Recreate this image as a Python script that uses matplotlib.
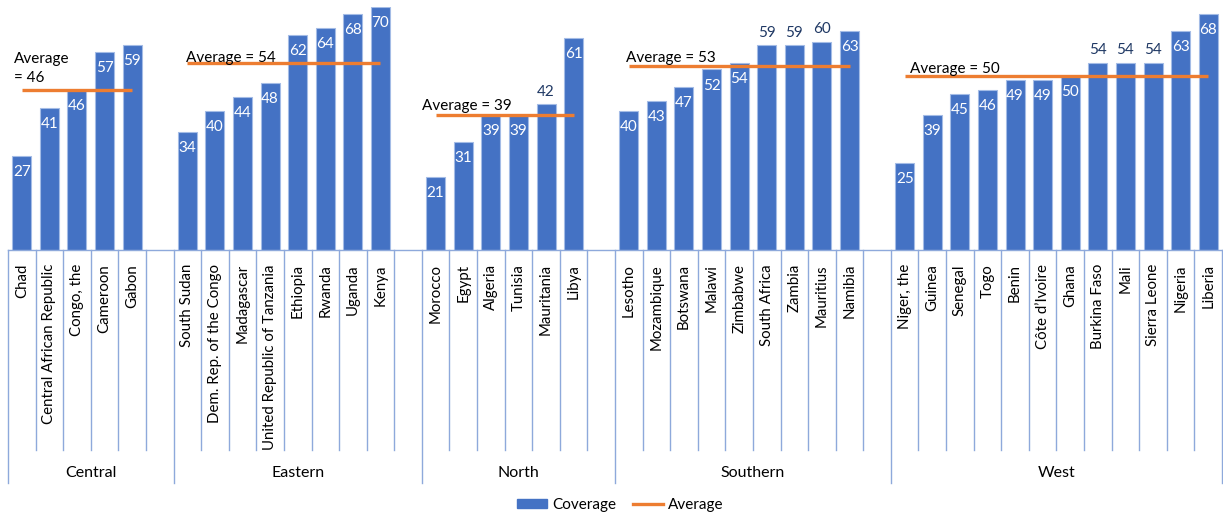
import matplotlib
matplotlib.use("Agg")
import matplotlib.pyplot as plt
import matplotlib.transforms as mtransforms
from matplotlib.patches import Patch
from matplotlib.lines import Line2D

plt.rcParams['font.family'] = ['Lato', 'DejaVu Sans']

# coverage by region
regions = ['Central', 'Eastern', 'North', 'Southern', 'West']
countries = [
    ['Chad', 'Central African Republic', 'Congo, the', 'Cameroon', 'Gabon'],
    ['South Sudan', 'Dem. Rep. of the Congo', 'Madagascar',
     'United Republic of Tanzania', 'Ethiopia', 'Rwanda', 'Uganda', 'Kenya'],
    ['Morocco', 'Egypt', 'Algeria', 'Tunisia', 'Mauritania', 'Libya'],
    ['Lesotho', 'Mozambique', 'Botswana', 'Malawi', 'Zimbabwe',
     'South Africa', 'Zambia', 'Mauritius', 'Namibia'],
    ['Niger, the', 'Guinea', 'Senegal', 'Togo', 'Benin', 'Côte d’Ivoire',
     'Ghana', 'Burkina Faso', 'Mali', 'Sierra Leone', 'Nigeria', 'Liberia'],
]
coverage = [
    [27, 41, 46, 57, 59],
    [34, 40, 44, 48, 62, 64, 68, 70],
    [21, 31, 39, 39, 42, 61],
    [40, 43, 47, 52, 54, 59, 59, 60, 63],
    [25, 39, 45, 46, 49, 49, 50, 54, 54, 54, 63, 68],
]
averages = [46, 54, 39, 53, 50]
avg_text = ['Average\n= 46', 'Average = 54', 'Average = 39',
            'Average = 53', 'Average = 50']
# labels placed above the bar so the average line doesn't cross them
above = {'Mauritania', 'South Africa', 'Zambia', 'Mauritius',
         'Burkina Faso', 'Mali', 'Sierra Leone'}

BLUE = '#4472C4'
ORANGE = '#ED7D31'
TICK = '#8EA9DB'

W, H = 1223, 519
fig = plt.figure(figsize=(W / 100, H / 100), dpi=100)
ax = fig.add_axes([8 / W, (H - 250) / H, 1214 / W, 243 / H])

# slot layout: one slot per country plus an empty slot after each region
xs, names, vals, bounds, starts = [], [], [], [-0.5], []
pos = 0
for g, (cs, vs) in enumerate(zip(countries, coverage)):
    starts.append(pos)
    for c, v in zip(cs, vs):
        xs.append(pos)
        names.append(c)
        vals.append(v)
        pos += 1
    if g < len(regions) - 1:
        pos += 1
    bounds.append(pos - 0.5)

ax.bar(xs, vals, width=0.69, color=BLUE, edgecolor='#A4BCE6',
       linewidth=0.8, zorder=2)

for g, avg in enumerate(averages):
    gx = list(range(starts[g], starts[g] + len(countries[g])))
    ax.plot(gx, [avg] * len(gx), color=ORANGE, lw=2.4,
            solid_capstyle='butt', zorder=3)

for x, n, v in zip(xs, names, vals):
    if n in above:
        ax.annotate(str(v), (x, v), xytext=(0, 4), textcoords='offset points',
                    ha='center', va='bottom', fontsize=11, color='#1F3864')
    else:
        ax.annotate(str(v), (x, v), xytext=(0, -6.5), textcoords='offset points',
                    ha='center', va='top', fontsize=11, color='white')

text_dx = [-0.28, -0.05, -0.5, -0.1, 0.2]
text_dy = [3.5, -2, 1, 1, 0.5]
for g, avg in enumerate(averages):
    ax.annotate(avg_text[g], (starts[g] + text_dx[g], avg),
                xytext=(0, text_dy[g]), textcoords='offset points',
                ha='left', va='bottom', fontsize=11, color='black',
                linespacing=1.5, annotation_clip=False)

ax.set_xlim(-0.5, pos - 0.5)
ax.set_ylim(0, 70)
ax.axis('off')

# multi-level category axis below the plot
tr = mtransforms.blended_transform_factory(ax.transData, fig.transFigure)
y0 = (H - 250) / H
y_inner = (H - 450) / H
y_outer = (H - 483) / H
ax.plot([-0.5, pos - 0.5], [y0, y0], transform=tr, color=TICK, lw=1,
        clip_on=False)
for b in range(pos + 1):
    bx = b - 0.5
    yb = y_outer if bx in bounds else y_inner
    ax.plot([bx, bx], [y0, yb], transform=tr, color=TICK, lw=1, clip_on=False)

labels = []
for x, n in zip(xs, names):
    labels.append(ax.text(x, (H - 264) / H, n, transform=tr, rotation=90,
                          ha='center', va='top', fontsize=10, color='black'))

# size the country names so the longest one fills its cell (about 185 px)
renderer = fig.canvas.get_renderer()
longest = max(t.get_window_extent(renderer).height for t in labels)
size = 10 * 185 / longest
for t in labels:
    t.set_fontsize(size)

for g, r in enumerate(regions):
    cx = (bounds[g] + bounds[g + 1]) / 2
    ax.text(cx, (H - 473) / H, r, transform=tr, ha='center', va='center',
            fontsize=11.5, color='black')

handles = [Patch(facecolor=BLUE, edgecolor=BLUE),
           Line2D([0], [0], color=ORANGE, lw=2.4)]
fig.legend(handles, ['Coverage', 'Average'], loc='center', ncol=2,
           bbox_to_anchor=(0.507, (H - 505) / H), frameon=False, fontsize=11,
           handlelength=2.0, handleheight=0.5, columnspacing=1.1,
           handletextpad=0.3)

fig.savefig('out.png', dpi=100)
